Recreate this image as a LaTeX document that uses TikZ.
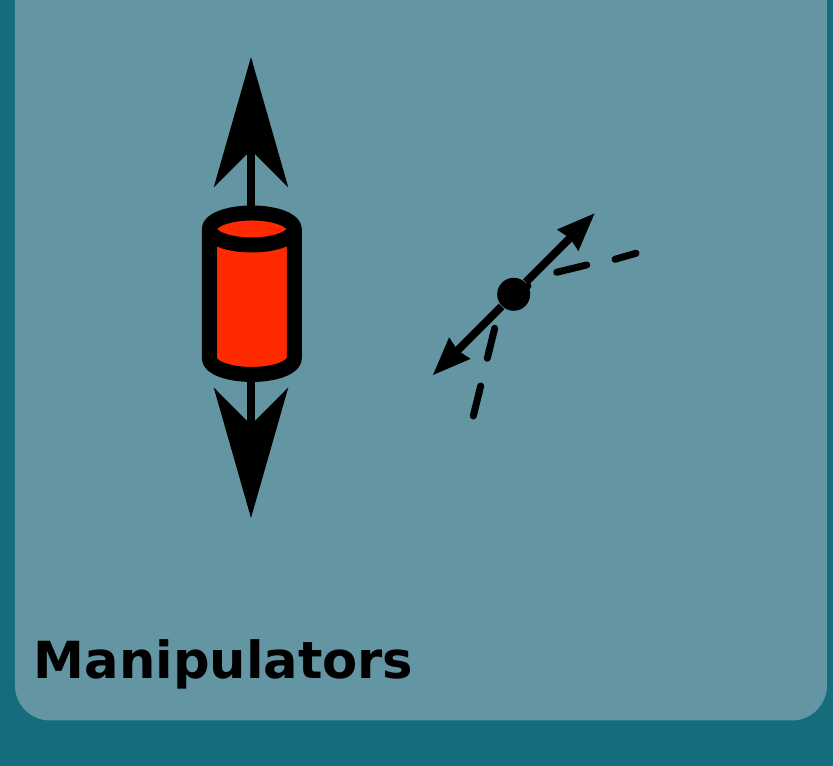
\documentclass[tikz,border=0pt]{standalone}
\usepackage{fontspec}
\setmainfont{DejaVu Sans}
\usepackage{xcolor}
\usetikzlibrary{arrows.meta, positioning}
\definecolor{tealback}{HTML}{146C7C}
\definecolor{panelblue}{HTML}{6396A2}
\definecolor{cylred}{HTML}{FF2A00}
\tikzset{
  bigarrow/.style={-{Stealth[length=1.3cm,width=0.74cm,inset=0.37cm]}, line width=0.08cm},
  smallarrow/.style={-{Stealth[length=0.375cm,width=0.28cm,inset=0.02cm]}, line width=0.08cm},
  dashpiece/.style={line width=0.07cm, line cap=round},
  cylline/.style={line width=0.15cm, line join=round, fill=cylred}
}

\begin{document}
\begin{tikzpicture}
  \useasboundingbox (0,0) rectangle (8.33,7.66);
  \clip (0,0) rectangle (8.33,7.66);
  \fill[tealback] (0,0) rectangle (8.33,7.66);
  \fill[panelblue, rounded corners=0.35cm] (0.15,0.455) rectangle (8.27,8.5);

  % translation handle
  \coordinate (uptip) at (2.51,7.09);
  \coordinate (downtip) at (2.51,2.48);
  \coordinate (cyltop) at (2.51,5.37);
  \coordinate (cylbottom) at (2.51,4.07);
  \draw[bigarrow] (cyltop) -- (uptip);
  \draw[bigarrow] (cylbottom) -- (downtip);
  \draw[cylline] (2.093,5.37) -- (2.093,4.075) arc (180:360:0.425 and 0.16)
    -- (2.943,5.37);
  \draw[cylline] (2.518,5.37) ellipse (0.425 and 0.16);

  % rotation handle
  \draw[dashpiece] (5.28,4.80) -- (5.06,4.62);
  \node[circle, fill=black, minimum size=0.33cm, inner sep=0pt] (ball) at (5.137,4.717) {};
  \coordinate (righttip) at (5.95,5.53);
  \coordinate (lefttip) at (4.325,3.905);
  \draw[smallarrow] (ball) -- (righttip);
  \draw[smallarrow] (ball) -- (lefttip);
  \draw[dashpiece] (5.567,4.937) -- (5.867,5.01);
  \draw[dashpiece] (6.15,5.067) -- (6.36,5.127);
  \draw[dashpiece] (4.947,4.377) -- (4.873,4.077);
  \draw[dashpiece] (4.807,3.80) -- (4.733,3.50);

  \node[anchor=base west, inner sep=0pt, font=\bfseries\fontsize{14.55pt}{17pt}\selectfont] (title) at (0.33,0.87) {Manipulators};
\end{tikzpicture}
\end{document}
